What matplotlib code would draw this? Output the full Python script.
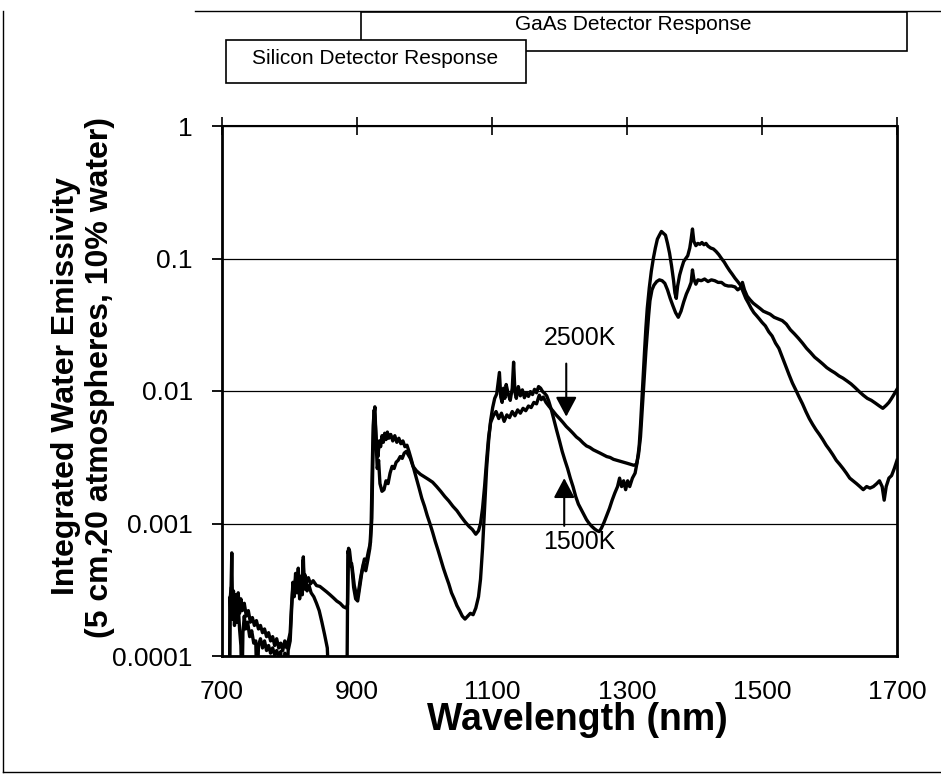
import matplotlib
matplotlib.use('Agg')
import matplotlib.pyplot as plt
from matplotlib.patches import Rectangle
from matplotlib.lines import Line2D
from matplotlib.ticker import NullLocator

plt.rcParams['font.family'] = ['Liberation Sans', 'DejaVu Sans']

# data (values < 1e-4 mean "below the axis")
wl_2500 = [708, 711, 712, 713.5, 714.5, 715.5, 717, 718.5, 720, 722, 724, 726, 728, 730, 733, 736, 739, 742,
           745, 748, 751, 754, 757, 760, 763, 766, 769, 772, 775, 778, 781, 784, 787, 790, 793, 796, 799, 801,
           803, 805, 807, 809, 811, 813, 815, 817, 819, 820, 821.5, 823, 825, 828, 831, 835, 840, 845, 850, 855,
           860, 865, 870, 875, 880, 884, 886, 887.5, 889, 891, 893, 896, 899, 902, 905, 908, 911, 914, 917, 920,
           922, 923.5, 925, 926.5, 928, 930, 932, 934, 937, 940, 943, 946, 949, 952, 955, 958, 961, 964, 967,
           970, 973, 976, 979, 983, 988, 994, 1000, 1006, 1012, 1018, 1024, 1030, 1036, 1042, 1048, 1054, 1060,
           1066, 1071, 1076, 1080, 1083, 1086, 1089, 1092, 1095, 1098, 1102, 1106, 1110, 1114, 1118, 1122, 1126,
           1130, 1134, 1138, 1142, 1146, 1150, 1154, 1158, 1162, 1166, 1170, 1173, 1176, 1180, 1185, 1190, 1195,
           1200, 1205, 1210, 1215, 1220, 1225, 1230, 1235, 1240, 1245, 1250, 1255, 1260, 1265, 1270, 1275, 1280,
           1285, 1290, 1295, 1300, 1305, 1310, 1314, 1317, 1320, 1322, 1324, 1326, 1328, 1330, 1332, 1334, 1337,
           1340, 1344, 1348, 1352, 1356, 1360, 1364, 1368, 1372, 1376, 1380, 1384, 1388, 1392, 1395, 1397, 1399,
           1402, 1405, 1410, 1415, 1420, 1425, 1430, 1435, 1440, 1445, 1450, 1455, 1460, 1464, 1468, 1471, 1474,
           1478, 1482, 1487, 1492, 1497, 1502, 1507, 1512, 1518, 1524, 1530, 1536, 1542, 1548, 1554, 1560, 1566,
           1572, 1578, 1584, 1590, 1596, 1602, 1608, 1614, 1620, 1626, 1632, 1638, 1644, 1650, 1656, 1662, 1668,
           1674, 1679, 1684, 1688, 1692, 1696, 1700]
em_2500 = [5e-5, 5e-5, 2.6e-4, 3.4e-4, 6e-4, 2.4e-4, 3.1e-4, 2.2e-4, 2.9e-4, 2.3e-4, 3e-4, 2.1e-4, 2.7e-4,
           2.2e-4, 2.5e-4, 2e-4, 2.2e-4, 1.8e-4, 1.95e-4, 1.7e-4, 1.85e-4, 1.6e-4, 1.7e-4, 1.5e-4, 1.6e-4,
           1.4e-4, 1.5e-4, 1.3e-4, 1.4e-4, 1.2e-4, 1.35e-4, 1.15e-4, 1.25e-4, 1.1e-4, 1.3e-4, 1.15e-4, 1.35e-4,
           1.5e-4, 2.4e-4, 3.3e-4, 3e-4, 3.8e-4, 3.4e-4, 4.2e-4, 3.5e-4, 3.9e-4, 3.4e-4, 5.3e-4, 3.6e-4, 4.1e-4,
           3.6e-4, 3.9e-4, 3.5e-4, 3.7e-4, 3.4e-4, 3.35e-4, 3.2e-4, 3.05e-4, 2.9e-4, 2.75e-4, 2.6e-4, 2.5e-4,
           2.35e-4, 2.3e-4, 2.45e-4, 6.5e-4, 6.2e-4, 5e-4, 4.6e-4, 3.4e-4, 2.9e-4, 3e-4, 3.8e-4, 4.6e-4, 5.4e-4,
           5.2e-4, 6.2e-4, 7.2e-4, 1.1e-3, 3e-3, 6.5e-3, 7.6e-3, 4.5e-3, 2.6e-3, 3e-3, 2e-3, 1.75e-3, 1.8e-3,
           2.1e-3, 2e-3, 2.4e-3, 2.7e-3, 2.6e-3, 2.9e-3, 3e-3, 3.2e-3, 3.1e-3, 3.4e-3, 3.5e-3, 3.3e-3, 3.1e-3,
           2.7e-3, 2.5e-3, 2.35e-3, 2.25e-3, 2.15e-3, 2.05e-3, 1.9e-3, 1.75e-3, 1.6e-3, 1.48e-3, 1.35e-3,
           1.25e-3, 1.13e-3, 1.03e-3, 9.5e-4, 9e-4, 8.3e-4, 8.8e-4, 1e-3, 1.3e-3, 1.9e-3, 3e-3, 4.5e-3, 5.8e-3,
           6.5e-3, 7e-3, 6.2e-3, 6.8e-3, 5.9e-3, 6.6e-3, 6.3e-3, 7e-3, 6.5e-3, 7.2e-3, 6.8e-3, 7.4e-3, 7.1e-3,
           7.7e-3, 7.5e-3, 8.2e-3, 8e-3, 9.3e-3, 8.6e-3, 9e-3, 8.2e-3, 7.6e-3, 7.1e-3, 6.6e-3, 6.2e-3, 5.8e-3,
           5.4e-3, 5.1e-3, 4.8e-3, 4.5e-3, 4.3e-3, 4.05e-3, 3.85e-3, 3.75e-3, 3.6e-3, 3.5e-3, 3.4e-3, 3.3e-3,
           3.2e-3, 3.15e-3, 3.05e-3, 3e-3, 2.95e-3, 2.9e-3, 2.85e-3, 2.8e-3, 2.75e-3, 2.8e-3, 3.3e-3, 4.5e-3,
           6.5e-3, 9.5e-3, 0.014, 0.02, 0.027, 0.037, 0.048, 0.058, 0.063, 0.067, 0.069, 0.068, 0.065, 0.058,
           0.05, 0.044, 0.039, 0.036, 0.04, 0.047, 0.054, 0.06, 0.066, 0.082, 0.07, 0.064, 0.069, 0.068, 0.07,
           0.067, 0.069, 0.068, 0.066, 0.066, 0.063, 0.062, 0.062, 0.061, 0.058, 0.06, 0.066, 0.058, 0.052,
           0.049, 0.046, 0.044, 0.042, 0.04, 0.039, 0.038, 0.036, 0.035, 0.034, 0.032, 0.029, 0.027, 0.025,
           0.023, 0.021, 0.0195, 0.018, 0.017, 0.016, 0.015, 0.0143, 0.0137, 0.013, 0.0125, 0.0119, 0.0113,
           0.0106, 0.0099, 0.0093, 0.0088, 0.0085, 0.0081, 0.0077, 0.0074, 0.0078, 0.0082, 0.0088, 0.0095,
           0.0103]

wl_1500 = [706, 711, 712, 713, 714, 715.5, 717, 718.5, 720, 722, 724, 726, 728, 729.5, 731, 733, 735, 738, 741,
           744, 747, 750, 752, 754, 757, 760, 763, 766, 769, 772, 775, 778, 781, 784, 787, 790, 793, 796, 798,
           801, 803, 805, 807, 809, 811, 813, 815, 817, 819, 820.5, 822, 824, 826, 829, 832, 836, 840, 844, 848,
           852, 856, 859, 885, 886.5, 888, 890, 892, 895, 898, 901, 904, 907, 910, 913, 916, 919, 921, 922.5,
           924, 925.5, 927, 929, 931, 933, 935, 937, 939, 941, 943, 945, 947, 950, 953, 956, 959, 962, 965, 968,
           971, 974, 977, 980, 984, 988, 992, 996, 1000, 1004, 1008, 1012, 1016, 1020, 1024, 1028, 1032, 1036,
           1040, 1044, 1048, 1052, 1056, 1060, 1064, 1068, 1072, 1076, 1080, 1083, 1086, 1089, 1092, 1095, 1098,
           1101, 1104, 1107, 1109, 1111, 1113, 1115, 1117, 1119, 1121, 1124, 1127, 1130, 1132, 1134, 1136, 1139,
           1142, 1145, 1148, 1151, 1154, 1157, 1160, 1163, 1166, 1169, 1172, 1175, 1178, 1181, 1184, 1188, 1192,
           1196, 1200, 1204, 1208, 1212, 1216, 1220, 1224, 1228, 1232, 1236, 1240, 1244, 1248, 1252, 1256, 1259,
           1262, 1266, 1270, 1274, 1278, 1282, 1286, 1289, 1292, 1295, 1298, 1301, 1304, 1308, 1312, 1315, 1318,
           1320, 1322, 1324, 1326, 1328, 1330, 1333, 1336, 1339, 1342, 1345, 1348, 1351, 1354, 1357, 1360, 1363,
           1366, 1369, 1371, 1373, 1375, 1378, 1381, 1384, 1387, 1390, 1393, 1395, 1397, 1399, 1402, 1405, 1408,
           1411, 1414, 1417, 1420, 1424, 1428, 1432, 1436, 1440, 1444, 1448, 1452, 1456, 1460, 1464, 1468, 1472,
           1476, 1480, 1484, 1488, 1492, 1496, 1500, 1505, 1510, 1515, 1520, 1525, 1530, 1535, 1540, 1545, 1550,
           1555, 1560, 1565, 1570, 1575, 1580, 1585, 1590, 1595, 1600, 1605, 1610, 1615, 1620, 1625, 1630, 1635,
           1640, 1645, 1650, 1655, 1660, 1665, 1670, 1674, 1678, 1681, 1684, 1688, 1692, 1696, 1700]
em_1500 = [5e-5, 5e-5, 2.8e-4, 2e-4, 3.3e-4, 1.9e-4, 2.8e-4, 1.7e-4, 2.5e-4, 1.8e-4, 2.4e-4, 1.6e-4, 1.2e-4,
           5e-5, 1.5e-4, 2e-4, 1.6e-4, 1.8e-4, 1.4e-4, 1.55e-4, 1.25e-4, 1.3e-4, 5e-5, 1.2e-4, 1.35e-4,
           1.15e-4, 1.3e-4, 1.1e-4, 1.2e-4, 1.05e-4, 1.15e-4, 1.02e-4, 1.1e-4, 1e-4, 1.08e-4, 5e-5, 1.05e-4,
           5e-5, 1.1e-4, 1.3e-4, 2.2e-4, 3.6e-4, 2.8e-4, 4.2e-4, 3e-4, 4.6e-4, 2.7e-4, 4e-4, 2.9e-4, 5.6e-4,
           3.2e-4, 3.9e-4, 3.1e-4, 3.4e-4, 3e-4, 2.8e-4, 2.5e-4, 2.2e-4, 1.8e-4, 1.45e-4, 1.15e-4, 5e-5, 5e-5,
           6.2e-4, 5.8e-4, 4.8e-4, 5e-4, 3.3e-4, 2.7e-4, 2.6e-4, 3.3e-4, 4.2e-4, 5e-4, 4.4e-4, 5.3e-4, 6.5e-4,
           1e-3, 2.5e-3, 5.5e-3, 7.2e-3, 5.8e-3, 4e-3, 3.2e-3, 4.2e-3, 3.8e-3, 4.6e-3, 4.1e-3, 4.8e-3, 4.3e-3,
           4.9e-3, 4.4e-3, 4.7e-3, 4.2e-3, 4.6e-3, 4.1e-3, 4.4e-3, 4e-3, 4.2e-3, 3.8e-3, 3.9e-3, 3.5e-3, 3.1e-3,
           2.6e-3, 2.2e-3, 1.85e-3, 1.55e-3, 1.35e-3, 1.15e-3, 1e-3, 8.6e-4, 7.3e-4, 6.3e-4, 5.4e-4, 4.6e-4,
           4e-4, 3.5e-4, 3e-4, 2.7e-4, 2.4e-4, 2.2e-4, 2e-4, 1.9e-4, 2e-4, 2.1e-4, 2.05e-4, 2.3e-4, 2.8e-4,
           3.8e-4, 6.5e-4, 1.3e-3, 2.6e-3, 4.2e-3, 6e-3, 7.5e-3, 8.8e-3, 9.5e-3, 0.0115, 0.0138, 0.009, 0.0082,
           0.0105, 0.0088, 0.0112, 0.0095, 0.0085, 0.0105, 0.0165, 0.0098, 0.0088, 0.0108, 0.0092, 0.0102,
           0.0089, 0.0097, 0.0091, 0.0099, 0.0094, 0.0103, 0.0097, 0.0108, 0.0105, 0.0099, 0.0096, 0.0092,
           0.0084, 0.0072, 0.006, 0.005, 0.0042, 0.0035, 0.003, 0.0026, 0.0022, 0.0019, 0.0016, 0.0014, 0.00128,
           0.00117, 0.00107, 0.001, 0.00095, 0.00091, 0.00088, 0.00087, 0.00092, 0.00102, 0.00115, 0.0013,
           0.0015, 0.0017, 0.0019, 0.0022, 0.0019, 0.0021, 0.0018, 0.0021, 0.0019, 0.0022, 0.0024, 0.0029,
           0.0038, 0.0055, 0.0085, 0.013, 0.02, 0.03, 0.042, 0.06, 0.08, 0.1, 0.12, 0.14, 0.15, 0.16, 0.155,
           0.15, 0.13, 0.11, 0.088, 0.068, 0.055, 0.05, 0.062, 0.075, 0.085, 0.095, 0.1, 0.105, 0.12, 0.14,
           0.167, 0.135, 0.125, 0.13, 0.128, 0.132, 0.127, 0.13, 0.124, 0.12, 0.118, 0.113, 0.107, 0.1, 0.094,
           0.087, 0.081, 0.076, 0.071, 0.067, 0.063, 0.056, 0.05, 0.046, 0.042, 0.039, 0.037, 0.035, 0.033,
           0.031, 0.028, 0.026, 0.023, 0.021, 0.018, 0.0155, 0.0133, 0.0115, 0.0102, 0.009, 0.008, 0.007,
           0.0062, 0.0056, 0.0051, 0.0047, 0.0043, 0.0039, 0.0036, 0.0033, 0.003, 0.0028, 0.0026, 0.0024,
           0.0022, 0.0021, 0.002, 0.0019, 0.0018, 0.0019, 0.00185, 0.0019, 0.002, 0.0021, 0.0019, 0.0015,
           0.0019, 0.0022, 0.0023, 0.0026, 0.003]

xticks = [700, 900, 1100, 1300, 1500, 1700]
xtick_labels = ['700', '900', '1100', '1300', '1500', '1700']
yticks = [1e-4, 1e-3, 1e-2, 1e-1, 1]
ytick_labels = ['0.0001', '0.001', '0.01', '0.1', '1']

W, H = 941, 777
fig = plt.figure(figsize=(W / 100, H / 100), dpi=100)

def fx(px):
    return px / W

def fy(py):
    return 1 - py / H

ax = fig.add_axes([fx(222), fy(656), fx(897) - fx(222), fy(126) - fy(656)])
ax.set_yscale('log')
ax.set_xlim(700, 1700)
ax.set_ylim(1e-4, 1)

ax.plot(wl_2500, em_2500, color='k', lw=2.4, solid_joinstyle='round')
ax.plot(wl_1500, em_1500, color='k', lw=2.4, solid_joinstyle='round')

ax.set_yticks(yticks, ytick_labels)
ax.yaxis.set_minor_locator(NullLocator())
ax.set_xticks(xticks, xtick_labels)
ax.tick_params(axis='y', direction='out', length=7, width=1.3, labelsize=19, pad=14)
ax.tick_params(axis='x', top=True, bottom=False, direction='inout', length=13, width=1.2,
               labelsize=19, pad=11)
ax.grid(axis='y', which='major', color='k', lw=0.9)

for side, w in [('left', 2.0), ('bottom', 2.0), ('right', 2.0), ('top', 1.5)]:
    ax.spines[side].set_linewidth(w)

# arrows + labels
ax.annotate('', xy=(1210, 6.4e-3), xytext=(1210, 0.0161),
            arrowprops=dict(arrowstyle='-|>,head_length=0.6,head_width=0.32', color='k', lw=1.5,
                            shrinkA=0, shrinkB=0, mutation_scale=20))
ax.text(1230, 0.0251, '2500K', fontsize=18, ha='center', va='center')
ax.annotate('', xy=(1207, 2.2e-3), xytext=(1207, 9.6e-4),
            arrowprops=dict(arrowstyle='-|>,head_length=0.6,head_width=0.32', color='k', lw=1.5,
                            shrinkA=0, shrinkB=0, mutation_scale=20))
ax.text(1230, 7.3e-4, '1500K', fontsize=18, ha='center', va='center')

fig.text(fx(577), fy(720), 'Wavelength (nm)', fontsize=27, fontweight='bold', ha='center', va='center')
fig.text(fx(66), fy(386), 'Integrated Water Emissivity', fontsize=23, fontweight='bold',
         rotation=90, ha='center', va='center')
fig.text(fx(100), fy(378), '(5 cm,20 atmospheres, 10% water)', fontsize=23, fontweight='bold',
         rotation=90, ha='center', va='center')

# outer frame of the scanned figure
for xs, ys in [([3, 3], [11, 772]), ([195, 941], [11, 11]), ([3, 941], [772, 772])]:
    fig.add_artist(Line2D([fx(x) for x in xs], [fy(y) for y in ys], color='k', lw=1.0,
                          transform=fig.transFigure))

# detector response boxes
fig.add_artist(Rectangle((fx(361), fy(51)), fx(907) - fx(361), fy(12) - fy(51), transform=fig.transFigure,
                         facecolor='white', edgecolor='k', lw=1.2, zorder=5))
fig.text(fx(633), fy(24), 'GaAs Detector Response', fontsize=15, ha='center', va='center', zorder=6)
fig.add_artist(Rectangle((fx(226), fy(83)), fx(526) - fx(226), fy(40) - fy(83), transform=fig.transFigure,
                         facecolor='white', edgecolor='k', lw=1.2, zorder=7))
fig.text(fx(375), fy(59), 'Silicon Detector Response', fontsize=15, ha='center', va='center', zorder=8)

fig.savefig('out.png', dpi=100)
